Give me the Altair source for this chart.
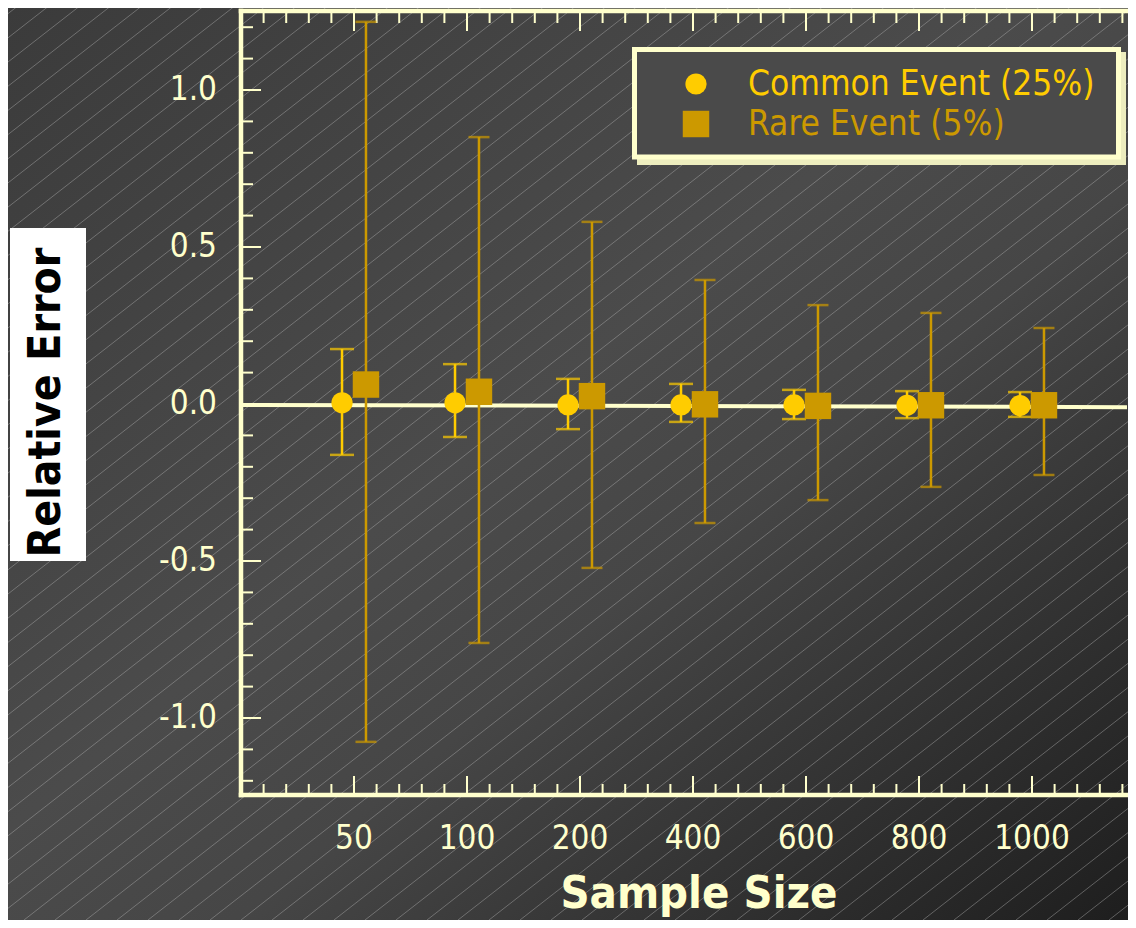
import altair as alt
import pandas as pd

# ---------------- data ----------------
sizes = ["50", "100", "200", "400", "600", "800", "1000"]
series_names = ["Common Event (25%)", "Rare Event (5%)"]
series_colors = ["#FFCC00", "#CC9900"]
series_shapes = ["circle", "square"]

common_mean = [0.004, 0.004, -0.003, -0.003, -0.003, -0.004, -0.005]
common_lo = [-0.162, -0.105, -0.080, -0.057, -0.048, -0.045, -0.041]
common_hi = [0.175, 0.127, 0.080, 0.064, 0.045, 0.041, 0.038]

rare_mean = [0.062, 0.039, 0.025, -0.001, -0.006, -0.004, -0.004]
rare_lo = [-1.076, -0.761, -0.522, -0.379, -0.306, -0.264, -0.226]
rare_hi = [1.217, 0.850, 0.580, 0.395, 0.315, 0.290, 0.242]

fit_line = [-0.003, -0.010]          # reference line at the left / right edges
y_tick_values = [-1.0, -0.5, 0.0, 0.5, 1.0]
y_tick_labels = ["-1.0", "-0.5", "0.0", "0.5", "1.0"]
y_minor_values = [round(i * 0.1, 1) for i in range(-12, 13) if i % 5 != 0]
x_major_values = list(range(1, len(sizes) + 1))
x_minor_values = [round(i * 0.2, 1) for i in range(1, 40) if i % 5 != 0]

x_title = "Sample Size"
y_title = "Relative Error"

# ---------------- styling ----------------
W, H = 886, 784
PAD = {"left": 233, "top": 3, "right": 1, "bottom": 125}
XMAX = W / 113.0
CREAM = "#FFFFCC"
FONT = "DejaVu Sans Condensed, DejaVu Sans"

x_scale = alt.Scale(domain=[0, XMAX], nice=False, zero=False)
y_scale = alt.Scale(domain=[-1.2452, 1.2516], nice=False, zero=False)
color_scale = alt.Scale(domain=series_names, range=series_colors)
shape_scale = alt.Scale(domain=series_names, range=series_shapes)
point_size_scale = alt.Scale(domain=series_names, range=[450, 700])
cap_size_scale = alt.Scale(domain=series_names, range=[24, 21])

rows = []
for i, s in enumerate(sizes):
    rows.append(dict(idx=i + 1, size=s, series=series_names[0],
                     mean=common_mean[i], lo=common_lo[i], hi=common_hi[i]))
    rows.append(dict(idx=i + 1, size=s, series=series_names[1],
                     mean=rare_mean[i], lo=rare_lo[i], hi=rare_hi[i]))
df = pd.DataFrame(rows)
dummy = pd.DataFrame({"a": [0]})

pos_expr = f"datum.idx + (datum.series == '{series_names[0]}' ? -0.106 : 0.106)"

# ---------------- background ----------------
bg = alt.Chart(dummy).mark_rect(
    fill=alt.Gradient(
        gradient="linear",
        stops=[
            alt.GradientStop(offset=0, color="#3b3b3b"),
            alt.GradientStop(offset=0.45, color="#4b4b4b"),
            alt.GradientStop(offset=0.6, color="#464646"),
            alt.GradientStop(offset=1, color="#1e1e1e"),
        ],
        x1=0, y1=0, x2=1, y2=1,
    )
).encode(
    x=alt.value(-PAD["left"]), x2=alt.value(W + PAD["right"]),
    y=alt.value(-PAD["top"]), y2=alt.value(H + PAD["bottom"]),
)

bottom_px = H + PAD["bottom"]
hatch = alt.Chart(alt.sequence(-50, 32, 1, as_="k")).transform_calculate(
    hx="datum.k * 31",
    hx2="datum.k * 31 + 1200",
    hy=f"{bottom_px}",
    hy2=f"{bottom_px} - 0.78 * 1200",
).mark_rule(stroke="#b0b0b0", strokeWidth=1, opacity=0.45).encode(
    x=alt.X("hx:Q", scale=None), x2="hx2:Q",
    y=alt.Y("hy:Q", scale=None), y2="hy2:Q",
)

# ---------------- titles ----------------
ytitle_box = alt.Chart(dummy).mark_rect(fill="white").encode(
    x=alt.value(-231), x2=alt.value(-155), y=alt.value(217), y2=alt.value(550)
)
ytitle = alt.Chart(dummy).mark_text(
    text=y_title, angle=270, font=FONT, fontSize=44, fontWeight="bold",
    color="black", align="center", baseline="alphabetic",
).encode(x=alt.value(-181), y=alt.value(391.5))

xtitle = alt.Chart(dummy).mark_text(
    text=x_title, font=FONT, fontSize=45, fontWeight="bold",
    color=CREAM, align="center", baseline="alphabetic",
).encode(x=alt.value(458), y=alt.value(897))

# ---------------- frame, ticks, tick labels ----------------
frame_top = alt.Chart(dummy).mark_rule(color=CREAM, strokeWidth=4.5, strokeCap="square").encode(
    x=alt.value(0), x2=alt.value(W), y=alt.value(0))
frame_bottom = alt.Chart(dummy).mark_rule(color=CREAM, strokeWidth=4.5, strokeCap="square").encode(
    x=alt.value(0), x2=alt.value(W), y=alt.value(H))
frame_left = alt.Chart(dummy).mark_rule(color=CREAM, strokeWidth=4.5, strokeCap="square").encode(
    x=alt.value(0), y=alt.value(0), y2=alt.value(H))

y_major = alt.Chart(pd.DataFrame({"v": y_tick_values})).mark_rule(color=CREAM, strokeWidth=2).encode(
    y=alt.Y("v:Q", scale=y_scale, axis=None), x=alt.value(0), x2=alt.value(20))
y_minor = alt.Chart(pd.DataFrame({"v": y_minor_values})).mark_rule(color=CREAM, strokeWidth=2).encode(
    y=alt.Y("v:Q", scale=y_scale, axis=None), x=alt.value(0), x2=alt.value(12))

x_major_b = alt.Chart(pd.DataFrame({"v": x_major_values})).mark_rule(color=CREAM, strokeWidth=2).encode(
    x=alt.X("v:Q", scale=x_scale, axis=None), y=alt.value(H), y2=alt.value(H - 19))
x_major_t = alt.Chart(pd.DataFrame({"v": x_major_values})).mark_rule(color=CREAM, strokeWidth=2).encode(
    x=alt.X("v:Q", scale=x_scale, axis=None), y=alt.value(0), y2=alt.value(20))
x_minor_b = alt.Chart(pd.DataFrame({"v": x_minor_values})).mark_rule(color=CREAM, strokeWidth=2).encode(
    x=alt.X("v:Q", scale=x_scale, axis=None), y=alt.value(H), y2=alt.value(H - 11))
x_minor_t = alt.Chart(pd.DataFrame({"v": x_minor_values})).mark_rule(color=CREAM, strokeWidth=2).encode(
    x=alt.X("v:Q", scale=x_scale, axis=None), y=alt.value(0), y2=alt.value(12))

y_labels = alt.Chart(pd.DataFrame({"v": y_tick_values, "t": y_tick_labels})).mark_text(
    align="right", baseline="middle", font=FONT, fontSize=33, color=CREAM).encode(
    y=alt.Y("v:Q", scale=y_scale, axis=None), x=alt.value(-24), text="t:N")
x_labels = alt.Chart(pd.DataFrame({"v": x_major_values, "t": sizes})).mark_text(
    align="center", baseline="top", font=FONT, fontSize=33, color=CREAM).encode(
    x=alt.X("v:Q", scale=x_scale, axis=None), y=alt.value(H + 28), text="t:N")

# ---------------- reference line ----------------
zero_line = alt.Chart(pd.DataFrame({"y0": [fit_line[0]], "y1": [fit_line[1]]})).mark_rule(
    color=CREAM, strokeWidth=4).encode(
    x=alt.value(0), x2=alt.value(W),
    y=alt.Y("y0:Q", scale=y_scale, axis=None), y2="y1:Q")

# ---------------- data marks ----------------
bars = alt.Chart(df).transform_calculate(pos=pos_expr).mark_rule(strokeWidth=2.5).encode(
    x=alt.X("pos:Q", scale=x_scale, axis=None),
    y=alt.Y("lo:Q", scale=y_scale, axis=None), y2="hi:Q",
    color=alt.Color("series:N", scale=color_scale, legend=None),
)
caps = alt.Chart(df).transform_calculate(pos=pos_expr).transform_fold(
    ["lo", "hi"], as_=["end", "val"]
).mark_tick(orient="horizontal", thickness=2.5).encode(
    x=alt.X("pos:Q", scale=x_scale, axis=None),
    y=alt.Y("val:Q", scale=y_scale, axis=None),
    color=alt.Color("series:N", scale=color_scale, legend=None),
    size=alt.Size("series:N", scale=cap_size_scale, legend=None),
)
points = alt.Chart(df).transform_calculate(pos=pos_expr).mark_point(
    filled=True, opacity=1, strokeWidth=0).encode(
    x=alt.X("pos:Q", scale=x_scale, axis=None),
    y=alt.Y("mean:Q", scale=y_scale, axis=None),
    color=alt.Color("series:N", scale=color_scale, legend=None),
    shape=alt.Shape("series:N", scale=shape_scale, legend=None),
    size=alt.Size("series:N", scale=point_size_scale, legend=None),
)

# ---------------- legend ----------------
leg_df = pd.DataFrame({"series": series_names, "i": list(range(len(series_names)))})
leg_shadow = alt.Chart(dummy).mark_rect(fill="#EDEDBE").encode(
    x=alt.value(396), x2=alt.value(885), y=alt.value(41), y2=alt.value(154))
leg_box = alt.Chart(dummy).mark_rect(fill="#4a4a4a", stroke=CREAM, strokeWidth=5).encode(
    x=alt.value(393.5), x2=alt.value(877.5), y=alt.value(38.5), y2=alt.value(146))
leg_sym = alt.Chart(leg_df).transform_calculate(ly="73 + 40 * datum.i").mark_point(
    filled=True, opacity=1, strokeWidth=0).encode(
    x=alt.value(455), y=alt.Y("ly:Q", scale=None),
    color=alt.Color("series:N", scale=color_scale, legend=None),
    shape=alt.Shape("series:N", scale=shape_scale, legend=None),
    size=alt.Size("series:N", scale=point_size_scale, legend=None),
)
leg_txt = alt.Chart(leg_df).transform_calculate(ly="73 + 40 * datum.i").mark_text(
    align="left", baseline="middle", font=FONT, fontSize=35).encode(
    x=alt.value(507), y=alt.Y("ly:Q", scale=None), text="series:N",
    color=alt.Color("series:N", scale=color_scale, legend=None),
)

chart = alt.layer(
    bg, hatch, ytitle_box, ytitle, xtitle,
    zero_line,
    y_minor, y_major, x_minor_t, x_minor_b, x_major_t, x_major_b,
    frame_top, frame_bottom, frame_left,
    y_labels, x_labels,
    bars, caps, points,
    leg_shadow, leg_box, leg_sym, leg_txt,
).resolve_scale(size="independent").properties(
    width=W, height=H, padding=PAD,
    autosize=alt.AutoSizeParams(type="none"),
).configure_view(stroke=None).configure(background="#3a3a3a")

chart.save("out.html", embed_options={"renderer": "svg", "actions": False})
